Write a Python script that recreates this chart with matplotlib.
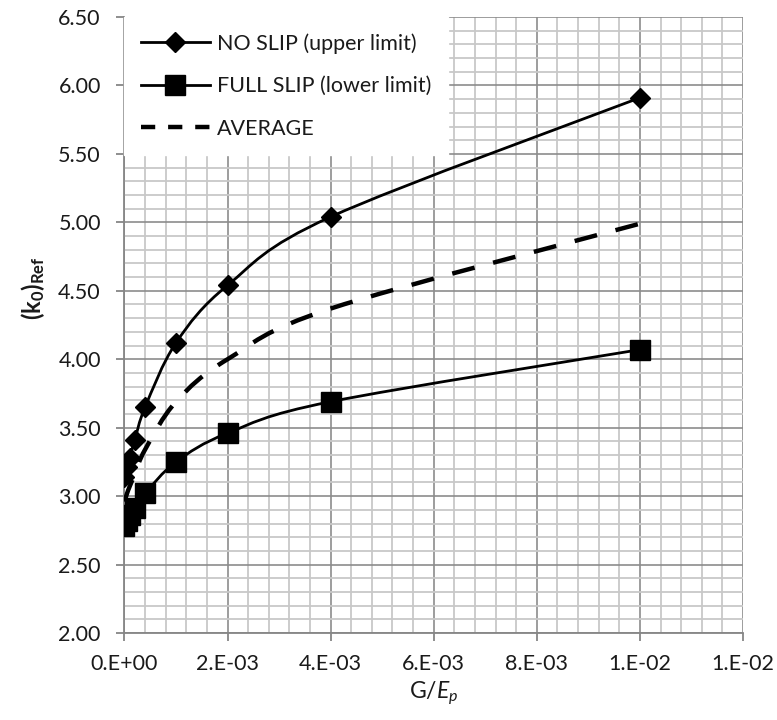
import numpy as np
import matplotlib
matplotlib.use("Agg")
import matplotlib.pyplot as plt
from matplotlib.path import Path
from matplotlib.patches import PathPatch
from matplotlib.lines import Line2D
from matplotlib.ticker import MultipleLocator

plt.rcParams['font.family'] = ['Lato', 'DejaVu Sans']
plt.rcParams['mathtext.fontset'] = 'custom'
plt.rcParams['mathtext.rm'] = 'Lato'
plt.rcParams['mathtext.it'] = 'Lato:italic'
plt.rcParams['mathtext.bf'] = 'Lato:bold'

# Data
g_over_ep = [0.0, 0.00005, 0.0001, 0.0002, 0.0004, 0.001, 0.002, 0.004, 0.01]
no_slip = [3.14, 3.21, 3.28, 3.41, 3.65, 4.12, 4.54, 5.04, 5.91]
full_slip = [2.78, 2.82, 2.86, 2.91, 3.02, 3.25, 3.46, 3.69, 4.07]
average = [2.96, 3.02, 3.07, 3.16, 3.34, 3.69, 4.00, 4.37, 4.99]

x_ticks = [0.0, 0.002, 0.004, 0.006, 0.008, 0.010, 0.012]
x_tick_labels = ['0.E+00', '2.E-03', '4.E-03', '6.E-03', '8.E-03', '1.E-02', '1.E-02']
y_ticks = [2.0, 2.5, 3.0, 3.5, 4.0, 4.5, 5.0, 5.5, 6.0, 6.5]
y_tick_labels = ['2.00', '2.50', '3.00', '3.50', '4.00', '4.50', '5.00', '5.50', '6.00', '6.50']


def smooth_path(x, y):
    # Excel style smoothed line: cubic bezier through every point
    p = np.column_stack([x, y])
    n = len(p)
    verts = [p[0]]
    codes = [Path.MOVETO]
    for i in range(n - 1):
        p_prev = p[i - 1] if i > 0 else p[i]
        p_next2 = p[i + 2] if i + 2 < n else p[i + 1]
        c1 = p[i] + (p[i + 1] - p_prev) / 6.0
        c2 = p[i + 1] - (p_next2 - p[i]) / 6.0
        verts += [c1, c2, p[i + 1]]
        codes += [Path.CURVE4] * 3
    return Path(verts, codes)


fig = plt.figure(figsize=(7.77, 7.2), dpi=100)
ax = fig.add_axes([0.1602, 0.1208, 0.7960, 0.8556])

ax.add_patch(PathPatch(smooth_path(g_over_ep, no_slip), fill=False,
                       edgecolor='black', lw=2.0, zorder=3))
ax.add_patch(PathPatch(smooth_path(g_over_ep, full_slip), fill=False,
                       edgecolor='black', lw=2.0, zorder=3))
ax.add_patch(PathPatch(smooth_path(g_over_ep, average), fill=False,
                       edgecolor='black', lw=3.2, linestyle=(0, (5.2, 4.3)),
                       capstyle='butt', zorder=3))

ax.plot(g_over_ep, no_slip, linestyle='none', marker='D', markersize=10.5,
        color='black', zorder=4)
ax.plot(g_over_ep, full_slip, linestyle='none', marker='s', markersize=14.5,
        color='black', zorder=4)

ax.set_xlim(0, 0.012)
ax.set_ylim(2.0, 6.5)
ax.set_xticks(x_ticks)
ax.set_xticklabels(x_tick_labels)
ax.set_yticks(y_ticks)
ax.set_yticklabels(y_tick_labels)
ax.xaxis.set_minor_locator(MultipleLocator(0.0004))
ax.yaxis.set_minor_locator(MultipleLocator(0.1))

ax.grid(which='minor', color='#c8c8c8', lw=1.3, zorder=0)
ax.grid(which='major', color='#8c8c8c', lw=1.2, zorder=1)
ax.set_axisbelow(True)
for side in ['top', 'right']:
    ax.spines[side].set_visible(False)
for side in ['left', 'bottom']:
    ax.spines[side].set_color('#868686')
    ax.spines[side].set_linewidth(1.3)

ax.tick_params(which='major', direction='out', length=6, width=1.3,
               color='#868686', labelsize=15.5, labelcolor='#1a1a1a')
ax.tick_params(axis='x', pad=9)
ax.tick_params(axis='y', pad=11)
ax.tick_params(which='minor', length=0)

ax.set_xlabel(r'G/$E_p$', fontsize=16.5, color='#1a1a1a', labelpad=4)
ax.set_ylabel(r'$\mathbf{(k_0)_{Ref}}$', fontsize=17, color='#1a1a1a')
ax.yaxis.set_label_coords(-0.125, 0.56)

handles = [
    Line2D([], [], color='black', lw=2.0, marker='D', markersize=10.5),
    Line2D([], [], color='black', lw=2.0, marker='s', markersize=14.5),
    Line2D([], [], color='black', lw=3.2, linestyle=(0, (3.2, 2.9))),
]
labels = ['NO SLIP (upper limit)', 'FULL SLIP (lower limit)', 'AVERAGE']
leg = ax.legend(handles, labels, loc='upper left', fontsize=15.5,
                frameon=True, fancybox=False, framealpha=1,
                edgecolor='white', borderaxespad=0, borderpad=0.75,
                handlelength=3.2, handletextpad=0.35, labelspacing=1.05)
for t in leg.get_texts():
    t.set_color('#1a1a1a')
leg.set_zorder(5)

fig.savefig('out.png', dpi=100)
